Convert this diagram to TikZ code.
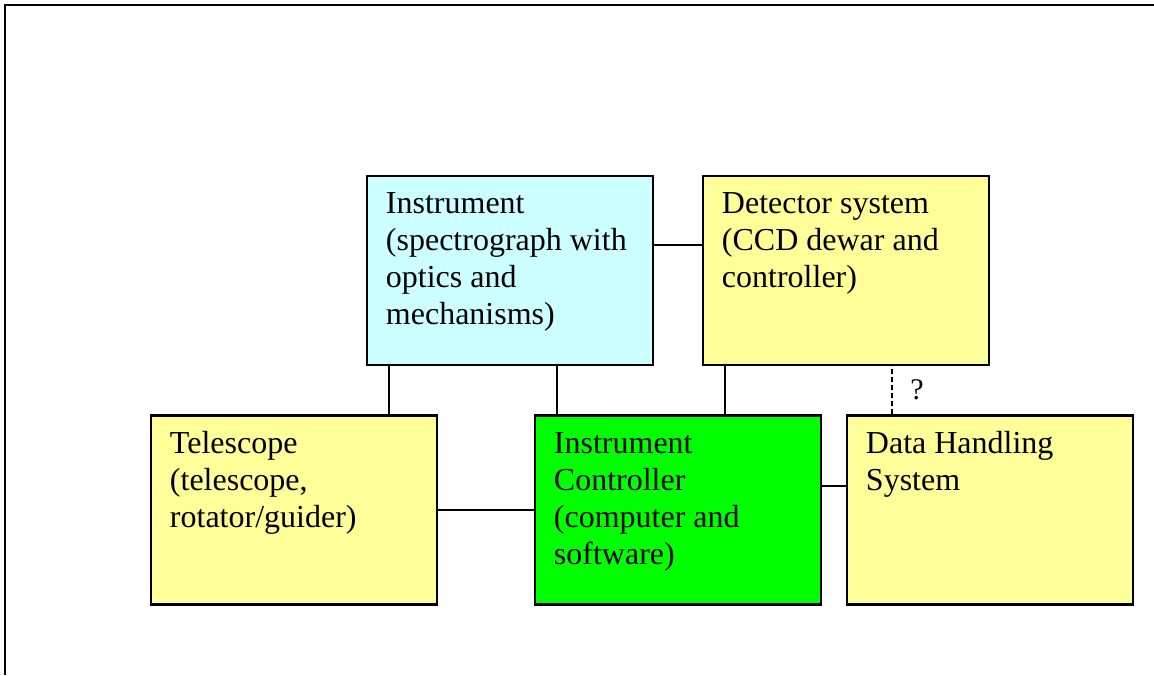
\documentclass[tikz,border=0pt]{standalone}
\usepackage{fontspec}
\setmainfont{Liberation Serif}
\usetikzlibrary{positioning}

\definecolor{paleyellow}{HTML}{FFFF99}
\definecolor{palecyan}{HTML}{CCFFFF}
\definecolor{brightgreen}{HTML}{00FF00}

\begin{document}
\begin{tikzpicture}[x=1pt, y=-1pt,
    box/.style={draw, line width=2.5pt, minimum width=286pt, minimum height=189pt, inner sep=0pt},
    txt/.style={anchor=base west, align=left, inner sep=0pt, font=\fontsize{32}{37}\selectfont},
    link/.style={line width=2pt},
    qmark/.style={fill=white, anchor=west, inner sep=0pt, minimum width=49pt, minimum height=46pt,
                  font=\fontsize{30}{36}\selectfont}]
  \useasboundingbox (0,0) rectangle (1154,675);
  \draw[line width=2.5pt] (5,675) -- (5,5) -- (1154,5);

  % boxes
  \node[box, fill=palecyan]                        (instr) at (510,270.5) {};
  \node[box, fill=paleyellow, right=47.5pt of instr] (det)   {};
  \node[box, fill=paleyellow]                      (tele)  at (294,510) {};
  \node[box, fill=brightgreen, right=95.5pt of tele] (ctrl)  {};
  \node[box, fill=paleyellow, right=23.5pt of ctrl]  (data)  {};

  % texts (base = last line, 37pt per line)
  \node[txt] (instrtxt) at ([shift={(20,150)}]instr.north west) {Instrument\\(spectrograph with\\optics and\\mechanisms)};
  \node[txt] (dettxt)   at ([shift={(20,113)}]det.north west)   {Detector system\\(CCD dewar and\\controller)};
  \node[txt] (teletxt)  at ([shift={(20,113)}]tele.north west)  {Telescope\\(telescope,\\rotator/guider)};
  \node[txt] (ctrltxt)  at ([shift={(20,150)}]ctrl.north west)  {Instrument\\Controller\\(computer and\\software)};
  \node[txt] (datatxt)  at ([shift={(20,76)}]data.north west)   {Data Handling\\System};

  % connectors
  \draw[link] ([shift={(0,70)}]instr.north east) -- ([shift={(0,70)}]instr.north east -| det.west);
  \draw[link] ([shift={(23,0)}]instr.south west) -- ([shift={(23,0)}]instr.south west |- tele.north);
  \draw[link] ([shift={(23,0)}]ctrl.north west)  -- ([shift={(23,0)}]ctrl.north west |- instr.south);
  \draw[link] ([shift={(23,0)}]det.south west)   -- ([shift={(23,0)}]det.south west |- ctrl.north);
  \draw[link] (tele.east) -- (ctrl.west);
  \draw[link] ([shift={(0,72)}]ctrl.north east)  -- ([shift={(0,72)}]ctrl.north east -| data.west);
  \draw[line width=1.5pt, dash pattern=on 5pt off 3pt] ([shift={(46,0)}]data.north west)
      -- ([shift={(46,0)}]data.north west |- det.south) node[midway, qmark] (q) {?};
\end{tikzpicture}
\end{document}
